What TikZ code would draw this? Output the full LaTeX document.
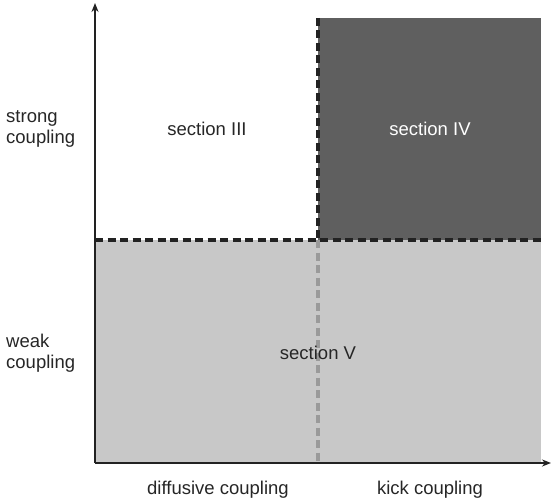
\documentclass[tikz,border=0pt]{standalone}
\usepackage{fontspec}
\setmainfont{Liberation Sans}
\usetikzlibrary{arrows.meta}
\definecolor{darkbox}{HTML}{5F5F5F}
\definecolor{lightbox}{HTML}{C8C8C8}
\definecolor{midline}{HTML}{9A9A9A}
\definecolor{axiscol}{HTML}{222222}
\begin{document}
\begin{tikzpicture}[x=1pt,y=-1pt,
  lbl/.style={font=\fontsize{18.5}{21}\selectfont, text=black!85, inner sep=0pt},
  sidelbl/.style={lbl, anchor=west, align=left},
  dashline/.style={line width=3.2pt, dash pattern=on 8pt off 4.5pt},
  axisline/.style={line width=1.8pt, draw=axiscol, -{Stealth[length=9pt,width=7pt]}}
]
\useasboundingbox (0,0) rectangle (553,502);
% regions
\fill[lightbox] (95,240) rectangle (541,463);
\fill[darkbox] (318,18) rectangle (541,240);
% dashed separators
\draw[dashline, midline] (318,240) -- (318,463);
\draw[dashline, axiscol] (95,240) -- (541,240);
\draw[dashline, axiscol] (318,18) -- (318,240);
% axes
\coordinate (O) at (95,463);
\coordinate (ytop) at (95,3);
\coordinate (xend) at (551,463);
\draw[axisline] (O) -- (ytop);
\draw[axisline] (O) -- (xend);
% labels
\node[sidelbl] (strong) at (6,129) {strong\\coupling};
\node[sidelbl] (weak) at (6,353) {weak\\coupling};
\node[lbl] (s3) at (207,129) {section III};
\node[lbl, text=white] (s4) at (430,129) {section IV};
\node[lbl] (s5) at (318,353) {section V};
\node[lbl] (diff) at (218,490) {diffusive coupling};
\node[lbl] (kick) at (430,490) {kick coupling};
\end{tikzpicture}
\end{document}
